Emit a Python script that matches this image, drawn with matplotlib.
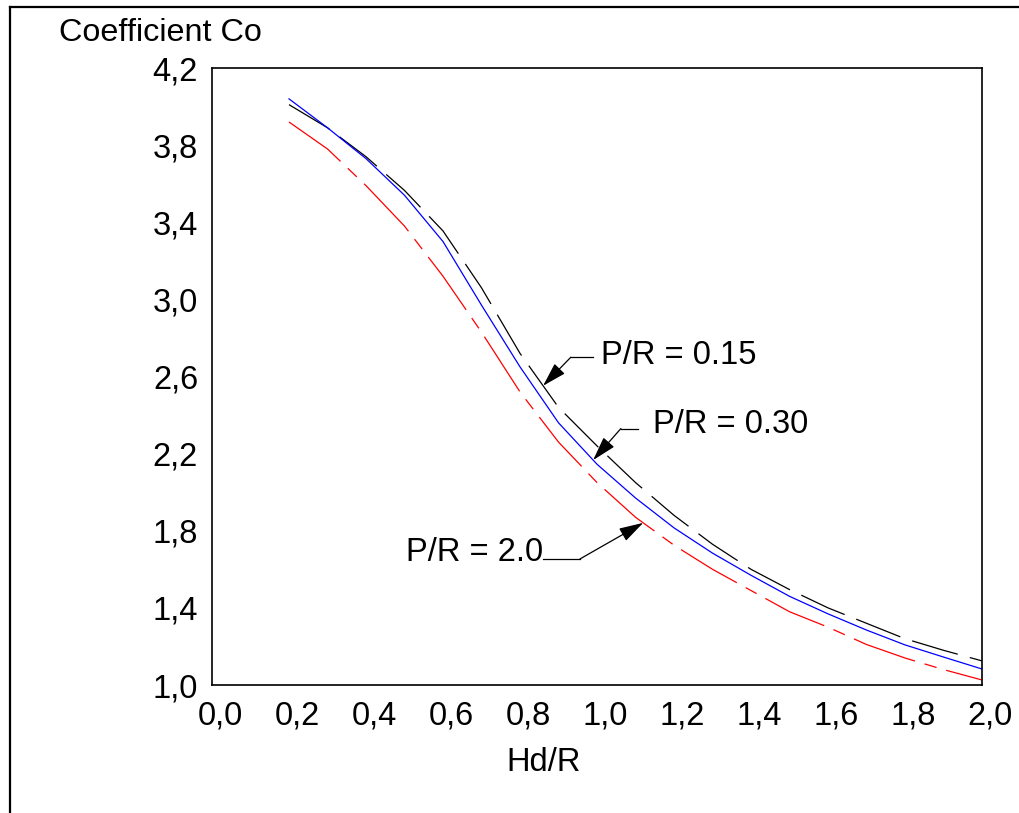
import numpy as np
import matplotlib
matplotlib.use("Agg")
import matplotlib.pyplot as plt
from matplotlib.lines import Line2D
from matplotlib.transforms import ScaledTranslation

plt.rcParams["font.family"] = ["Liberation Sans", "DejaVu Sans"]

# Hd/R values
hd_r = [0.2, 0.3, 0.4, 0.5, 0.6, 0.7, 0.8, 0.9, 1.0, 1.1,
        1.2, 1.3, 1.4, 1.5, 1.6, 1.7, 1.8, 1.9, 2.0]

# Coefficient Co for P/R = 0.15 (black, dashed)
co_015 = [4.01, 3.89, 3.74, 3.565, 3.355, 3.06, 2.72, 2.44, 2.24, 2.05,
          1.88, 1.73, 1.60, 1.495, 1.40, 1.32, 1.24, 1.18, 1.125]
# Coefficient Co for P/R = 0.30 (blue, solid)
co_030 = [4.04, 3.89, 3.73, 3.54, 3.30, 2.97, 2.65, 2.36, 2.145, 1.97,
          1.815, 1.684, 1.569, 1.46, 1.369, 1.285, 1.208, 1.145, 1.083]
# Coefficient Co for P/R = 2.0 (red, dash-dot)
co_20 = [3.92, 3.78, 3.59, 3.38, 3.12, 2.83, 2.52, 2.26, 2.05, 1.87,
         1.725, 1.60, 1.49, 1.38, 1.30, 1.21, 1.14, 1.08, 1.026]

xticks = np.arange(0, 2.01, 0.2)
yticks = np.arange(1.0, 4.21, 0.4)

fig = plt.figure(figsize=(10.2, 8.13), dpi=100)
ax = fig.add_axes([212/1020, 1-685/813, 770/1020, 617/813])

ax.plot(hd_r, co_015, color='black', lw=0.9, linestyle=(0, (38, 10)))
ax.plot(hd_r, co_030, color='#0000ff', lw=0.9, linestyle='solid')
ax.plot(hd_r, co_20, color='#ff0000', lw=0.9, linestyle=(0, (52, 8, 10, 8)))

ax.set_xlim(0, 2.0)
ax.set_ylim(1.0, 4.2)
ax.set_xticks(xticks)
ax.set_yticks(yticks)
ax.set_xticklabels([('%.1f' % v).replace('.', ',') for v in xticks])
ax.set_yticklabels([('%.1f' % v).replace('.', ',') for v in yticks])
ax.tick_params(axis='both', length=0, labelsize=23.5)
ax.tick_params(axis='x', pad=11)
ax.tick_params(axis='y', pad=10)
offset = ScaledTranslation(8/100, 0, fig.dpi_scale_trans)
for lab in ax.get_xticklabels():
    lab.set_transform(lab.get_transform() + offset)
for s in ax.spines.values():
    s.set_linewidth(1.2)

# Leader annotations
arrow = dict(arrowstyle='-|>,head_length=0.75,head_width=0.22', color='black',
             lw=0.9, shrinkA=0, shrinkB=0, mutation_scale=20)

def leader(label, xs, ys, tip_x, elbow, end_x, text_xy, ha):
    tip = (tip_x, np.interp(tip_x, xs, ys))
    ax.annotate('', xy=tip, xytext=elbow, arrowprops=arrow)
    ax.plot([elbow[0], end_x], [elbow[1], elbow[1]], color='black', lw=0.9)
    ax.text(text_xy[0], text_xy[1], label, ha=ha, va='center', fontsize=23.5)

leader('P/R = 0.15', hd_r, co_015, 0.86, (0.932, 2.70), 0.99, (1.01, 2.71), 'left')
leader('P/R = 0.30', hd_r, co_030, 0.99, (1.062, 2.33), 1.106, (1.145, 2.35), 'left')
leader('P/R = 2.0', hd_r, co_20, 1.12, (0.956, 1.654), 0.86, (0.86, 1.685), 'right')

fig.text(160/1020, 1-33/813, 'Coefficient Co', ha='center', va='center', fontsize=23.3)
fig.text(544/1020, 1-762/813, 'Hd/R', ha='center', va='center', fontsize=23.5)

# Drawing frame (top and left edges)
fig.add_artist(Line2D([10/1020, 1.0], [1-7/813, 1-7/813], transform=fig.transFigure,
                      color='black', lw=1.6))
fig.add_artist(Line2D([10/1020, 10/1020], [0.0, 1-7/813], transform=fig.transFigure,
                      color='black', lw=1.6))

fig.savefig('out.png', dpi=100)
